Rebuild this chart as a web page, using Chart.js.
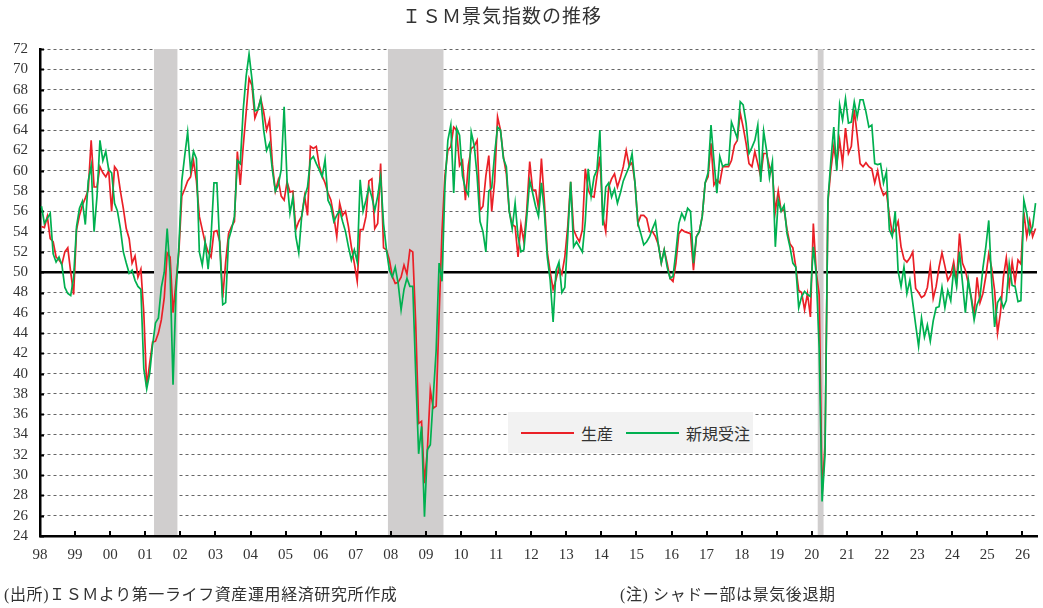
<!DOCTYPE html>
<html lang="ja">
<head>
<meta charset="utf-8">
<title>ISM景気指数の推移</title>
<script src="https://cdn.jsdelivr.net/npm/chart.js@4.4.1/dist/chart.umd.min.js"></script>
<style>
  html, body { margin: 0; padding: 0; background: #fff; }
  #wrap {
    position: relative; width: 1043px; height: 608px; overflow: hidden;
    font-family: "Liberation Serif", "DejaVu Serif", "Noto Sans CJK JP", serif;
    color: #333;
  }
  #chart-box { position: absolute; left: 0; top: 0; width: 1043px; height: 608px; }
  .title { position: absolute; left: 0; top: 5px; width: 1004px; text-align: center; font-size: 19px; line-height: 24px; letter-spacing: 1px; }
  .legend {
    position: absolute; left: 508px; top: 412px; width: 245px; height: 41px;
    background: #f2f2f2; display: flex; align-items: center; font-size: 16px;
  }
  .legend .swatch { display: inline-block; width: 53px; height: 2px; margin: 0 7px 0 13px; }
  .note { position: absolute; top: 585px; font-size: 16px; line-height: 20px; letter-spacing: 0.6px; white-space: nowrap; }
</style>
</head>
<body>
<div id="wrap">
  <div id="chart-box"><canvas id="ismChart"></canvas></div>
  <div class="title">ＩＳＭ景気指数の推移</div>
  <div class="legend" id="legend"></div>
  <div class="note" style="left:4px">(出所)ＩＳＭより第一ライフ資産運用経済研究所作成</div>
  <div class="note" style="left:620px">(注) シャドー部は景気後退期</div>
</div>
<script>
// 月次データ（1998年1月～2026年5月）
const yearLabels = ['98','99','00','01','02','03','04','05','06','07','08','09','10','11',
  '12','13','14','15','16','17','18','19','20','21','22','23','24','25','26'];

// 生産
const production = [
  54.5, 54.4, 55.5, 53.3, 53.0, 51.5, 51.2, 50.8, 52.0, 52.4, 50.0, 47.8, // 1998
  54.2, 55.6, 56.6, 57.3, 58.1, 63.0, 58.4, 58.4, 60.4, 59.8, 59.4, 60.0, // 1999
  56.0, 60.4, 60.0, 58.0, 56.3, 54.3, 53.3, 50.9, 51.6, 49.5, 50.3, 46.0, // 2000
  38.7, 41.0, 43.1, 43.2, 44.0, 45.3, 47.5, 51.9, 51.5, 46.0, 49.0, 52.0, // 2001
  57.5, 58.2, 59.0, 59.4, 61.0, 59.0, 55.5, 54.2, 52.9, 52.0, 51.5, 54.0, // 2002
  54.1, 53.0, 47.5, 51.0, 53.8, 54.5, 55.0, 61.9, 58.6, 62.4, 65.7, 69.1, // 2003
  68.4, 65.2, 66.0, 67.1, 65.8, 64.0, 65.0, 60.6, 58.0, 59.1, 57.5, 57.1, // 2004
  58.9, 57.9, 58.0, 54.2, 55.0, 55.5, 57.5, 55.6, 62.4, 62.2, 62.4, 60.5, // 2005
  59.5, 58.8, 57.8, 57.1, 55.5, 53.5, 56.8, 55.6, 56.0, 54.5, 52.5, 50.9, // 2006
  49.1, 54.2, 54.2, 55.5, 59.0, 59.2, 54.3, 54.8, 60.7, 52.4, 52.2, 51.2, // 2007
  49.6, 48.9, 49.0, 49.5, 50.7, 49.8, 52.2, 52.0, 45.0, 35.1, 35.3, 29.2, // 2008
  32.5, 38.4, 36.6, 36.8, 45.7, 54.0, 59.5, 62.0, 62.4, 64.3, 64.0, 60.5, // 2009
  61.0, 57.1, 60.5, 62.2, 62.4, 63.0, 56.1, 56.5, 59.5, 61.5, 56.0, 59.0, // 2010
  65.3, 64.0, 61.4, 59.7, 56.0, 54.7, 54.5, 51.5, 54.7, 53.0, 56.2, 60.9, // 2011
  58.1, 58.1, 56.3, 61.2, 57.0, 52.0, 50.0, 48.3, 49.3, 50.5, 49.8, 51.5, // 2012
  54.5, 58.9, 54.2, 53.5, 53.0, 54.2, 60.2, 58.1, 57.5, 57.4, 59.5, 61.4, // 2013
  55.5, 54.0, 58.4, 59.2, 59.7, 58.4, 59.3, 60.4, 62.0, 60.5, 60.8, 58.8, // 2014
  54.8, 55.6, 55.6, 55.3, 54.0, 54.0, 53.5, 52.7, 50.9, 52.2, 50.9, 49.4, // 2015
  49.1, 50.9, 53.8, 54.2, 54.0, 53.9, 53.8, 50.2, 53.5, 54.0, 55.5, 58.8, // 2016
  59.4, 62.7, 58.6, 59.1, 58.8, 60.4, 60.4, 60.4, 61.0, 62.5, 63.0, 65.7, // 2017
  64.3, 62.7, 60.7, 60.4, 61.9, 60.7, 59.4, 61.7, 61.7, 60.4, 59.8, 56.0, // 2018
  58.0, 56.0, 56.2, 54.2, 52.8, 52.4, 50.5, 48.2, 48.0, 46.3, 47.9, 45.6, // 2019
  54.8, 50.0, 47.8, 28.2, 33.0, 57.0, 60.1, 62.4, 60.5, 63.0, 60.7, 64.2, // 2020
  61.7, 62.4, 66.0, 63.5, 60.7, 60.4, 60.8, 60.4, 60.2, 58.8, 60.0, 58.4, // 2021
  57.6, 57.9, 55.6, 53.8, 54.2, 55.0, 52.5, 51.3, 51.0, 51.4, 52.0, 48.4, // 2022
  48.0, 47.5, 47.7, 48.5, 50.6, 47.4, 48.6, 50.5, 51.9, 50.6, 49.2, 49.7, // 2023
  51.0, 49.0, 53.8, 50.9, 50.2, 48.9, 47.6, 45.8, 49.5, 47.0, 47.9, 49.6, // 2024
  51.8, 50.4, 48.2, 44.0, 46.0, 49.5, 51.4, 48.6, 51.0, 49.0, 51.2, 50.8, // 2025
  55.9, 53.5, 55.1, 53.5, 54.3                                            // 2026
];

// 新規受注
const newOrders = [
  56.5, 54.8, 55.3, 55.8, 51.8, 51.0, 51.5, 50.7, 48.5, 47.9, 47.7, 49.5, // 1998
  54.5, 56.3, 57.0, 54.7, 59.0, 60.5, 54.0, 57.5, 63.0, 61.0, 61.9, 60.1, // 1999
  59.8, 56.8, 56.0, 54.3, 52.0, 50.9, 49.9, 50.2, 49.2, 48.6, 48.3, 40.5, // 2000
  38.5, 40.0, 42.8, 45.0, 45.5, 48.5, 50.0, 54.3, 50.0, 38.9, 48.0, 52.5, // 2001
  59.0, 61.5, 63.8, 60.1, 61.9, 61.2, 52.0, 50.7, 53.0, 50.3, 53.5, 58.8, // 2002
  58.8, 52.5, 46.8, 47.0, 53.2, 54.2, 55.5, 61.0, 60.7, 66.0, 69.3, 71.5, // 2003
  69.0, 65.9, 66.0, 67.1, 64.0, 62.0, 62.7, 60.0, 58.0, 58.6, 60.1, 66.3, // 2004
  59.0, 55.8, 57.4, 53.5, 51.9, 55.5, 57.4, 58.4, 61.1, 61.4, 60.7, 60.1, // 2005
  59.4, 61.1, 57.1, 56.5, 55.0, 55.6, 56.1, 55.0, 54.0, 52.5, 51.2, 52.2, // 2006
  51.0, 59.1, 56.0, 57.1, 58.4, 57.4, 56.1, 57.5, 59.4, 54.8, 52.2, 50.2, // 2007
  49.5, 50.5, 48.9, 46.3, 48.3, 49.4, 48.6, 48.6, 40.0, 32.1, 34.8, 25.9, // 2008
  32.5, 33.0, 37.7, 42.3, 50.9, 49.1, 58.5, 63.0, 64.5, 57.8, 64.2, 63.5, // 2009
  59.5, 58.2, 57.6, 63.8, 62.5, 59.5, 55.0, 54.0, 52.0, 58.0, 58.3, 61.7, // 2010
  64.3, 64.0, 61.2, 60.4, 56.0, 54.3, 56.8, 53.5, 52.0, 52.2, 55.5, 59.0, // 2011
  57.8, 56.5, 55.5, 58.8, 56.0, 51.5, 49.2, 45.1, 50.2, 51.0, 48.0, 48.5, // 2012
  53.5, 58.9, 52.5, 53.0, 52.5, 52.0, 55.0, 60.2, 57.5, 59.4, 60.1, 64.0, // 2013
  54.6, 58.4, 58.8, 57.4, 58.2, 56.8, 57.8, 59.0, 59.7, 60.4, 61.7, 58.8, // 2014
  54.8, 53.8, 52.7, 53.0, 53.5, 54.3, 55.0, 52.7, 50.9, 52.2, 50.5, 49.4, // 2015
  49.6, 52.0, 54.8, 55.8, 55.2, 56.3, 56.0, 50.9, 53.5, 54.0, 55.5, 58.8, // 2016
  59.8, 64.5, 61.0, 57.8, 61.4, 60.4, 60.6, 60.6, 64.8, 64.0, 63.2, 66.8, // 2017
  66.5, 64.7, 61.7, 62.3, 63.0, 64.5, 58.9, 63.9, 62.0, 59.3, 60.9, 52.5, // 2018
  57.1, 56.0, 56.6, 53.8, 52.5, 50.9, 50.5, 46.5, 47.6, 48.1, 47.8, 47.6, // 2019
  52.5, 49.8, 42.5, 27.4, 32.0, 57.1, 61.0, 64.3, 60.0, 66.5, 65.0, 67.1, // 2020
  64.7, 64.8, 66.8, 65.3, 67.0, 67.0, 65.8, 64.3, 64.5, 60.7, 60.6, 60.7, // 2021
  58.8, 59.9, 54.2, 53.5, 56.0, 50.1, 48.6, 50.5, 47.9, 49.2, 47.0, 44.8, // 2022
  42.7, 45.5, 43.6, 44.8, 43.2, 45.2, 46.5, 46.6, 48.5, 46.5, 48.2, 47.2, // 2023
  50.3, 48.6, 52.0, 49.0, 46.0, 49.3, 47.4, 45.3, 46.8, 47.5, 50.4, 52.5, // 2024
  55.1, 49.0, 44.6, 47.0, 47.5, 46.5, 47.2, 50.8, 48.7, 48.6, 47.1, 47.2, // 2025
  57.1, 55.8, 53.8, 54.5, 56.8                                            // 2026
];

// 景気後退期（開始月, 終了月）
const recessions = [['2001-04', '2001-11'], ['2007-12', '2009-06'], ['2020-03', '2020-04']];

const monthIndex = s => (parseInt(s.slice(0, 4)) - 1998) * 12 + parseInt(s.slice(5, 7)) - 1;
const toPoints = arr => arr.map((v, i) => ({ x: i + 0.5, y: v }));

// 50ライン・シャドー・内向きの目盛り
const backdrop = {
  id: 'backdrop',
  beforeDatasetsDraw(chart) {
    const { ctx, chartArea: a, scales: { x, y } } = chart;
    ctx.save();
    const y50 = y.getPixelForValue(50);
    ctx.strokeStyle = '#000';
    ctx.lineWidth = 2.5;
    ctx.beginPath();
    ctx.moveTo(a.left, y50);
    ctx.lineTo(a.right, y50);
    ctx.stroke();

    ctx.fillStyle = '#d0cece';
    recessions.forEach(([s, e]) => {
      const x0 = x.getPixelForValue(monthIndex(s));
      const x1 = x.getPixelForValue(monthIndex(e) + 1);
      ctx.fillRect(x0, a.top, x1 - x0, a.bottom - a.top - 1);
    });

    ctx.strokeStyle = '#000';
    ctx.lineWidth = 2;
    ctx.beginPath();
    x.ticks.forEach((t, i) => {
      const px = Math.round(x.getPixelForTick(i));
      ctx.moveTo(px, a.bottom);
      ctx.lineTo(px, a.bottom - 5);
    });
    y.ticks.forEach((t, i) => {
      const py = Math.round(y.getPixelForTick(i)) + 0.5;
      ctx.moveTo(a.left, py);
      ctx.lineTo(a.left + 4, py);
    });
    ctx.stroke();
    ctx.restore();
  }
};

const datasets = [
  { label: '生産', data: toPoints(production), borderColor: '#ea2027', order: 2 },
  { label: '新規受注', data: toPoints(newOrders), borderColor: '#00b050', order: 1 }
];

new Chart(document.getElementById('ismChart'), {
  type: 'line',
  data: { datasets: datasets },
  options: {
    responsive: true,
    maintainAspectRatio: false,
    animation: false,
    events: [],
    layout: { padding: { top: 49, right: 6, bottom: 0, left: 0 } },
    elements: {
      line: { borderWidth: 1.7, tension: 0, fill: false },
      point: { radius: 0 }
    },
    plugins: { legend: { display: false }, tooltip: { enabled: false }, title: { display: false } },
    scales: {
      x: {
        type: 'linear',
        min: 0,
        max: 341,
        afterBuildTicks: s => { s.ticks = yearLabels.map((_, i) => ({ value: i * 12 })); },
        afterFit: s => { s.height = 72; },
        grid: { display: false },
        border: { display: true, color: '#000', width: 2.5 },
        ticks: {
          autoSkip: false, maxRotation: 0, padding: 2,
          color: '#333', font: { family: '"Liberation Serif", "DejaVu Serif", serif', size: 15 },
          callback: (v, i) => yearLabels[i]
        }
      },
      y: {
        min: 24,
        max: 72,
        afterFit: s => { s.width = 40; },
        grid: { color: '#666', lineWidth: 1, drawTicks: false },
        border: { display: true, color: '#000', width: 2.5, dash: [3, 3] },
        ticks: {
          stepSize: 2, autoSkip: false, padding: 12,
          color: '#333', font: { family: '"Liberation Serif", "DejaVu Serif", serif', size: 15 }
        }
      }
    }
  },
  plugins: [backdrop]
});

// 凡例
const legend = document.getElementById('legend');
datasets.forEach(d => {
  const sw = document.createElement('span');
  sw.className = 'swatch';
  sw.style.background = d.borderColor;
  const tx = document.createElement('span');
  tx.textContent = d.label;
  legend.appendChild(sw);
  legend.appendChild(tx);
});
</script>
</body>
</html>
